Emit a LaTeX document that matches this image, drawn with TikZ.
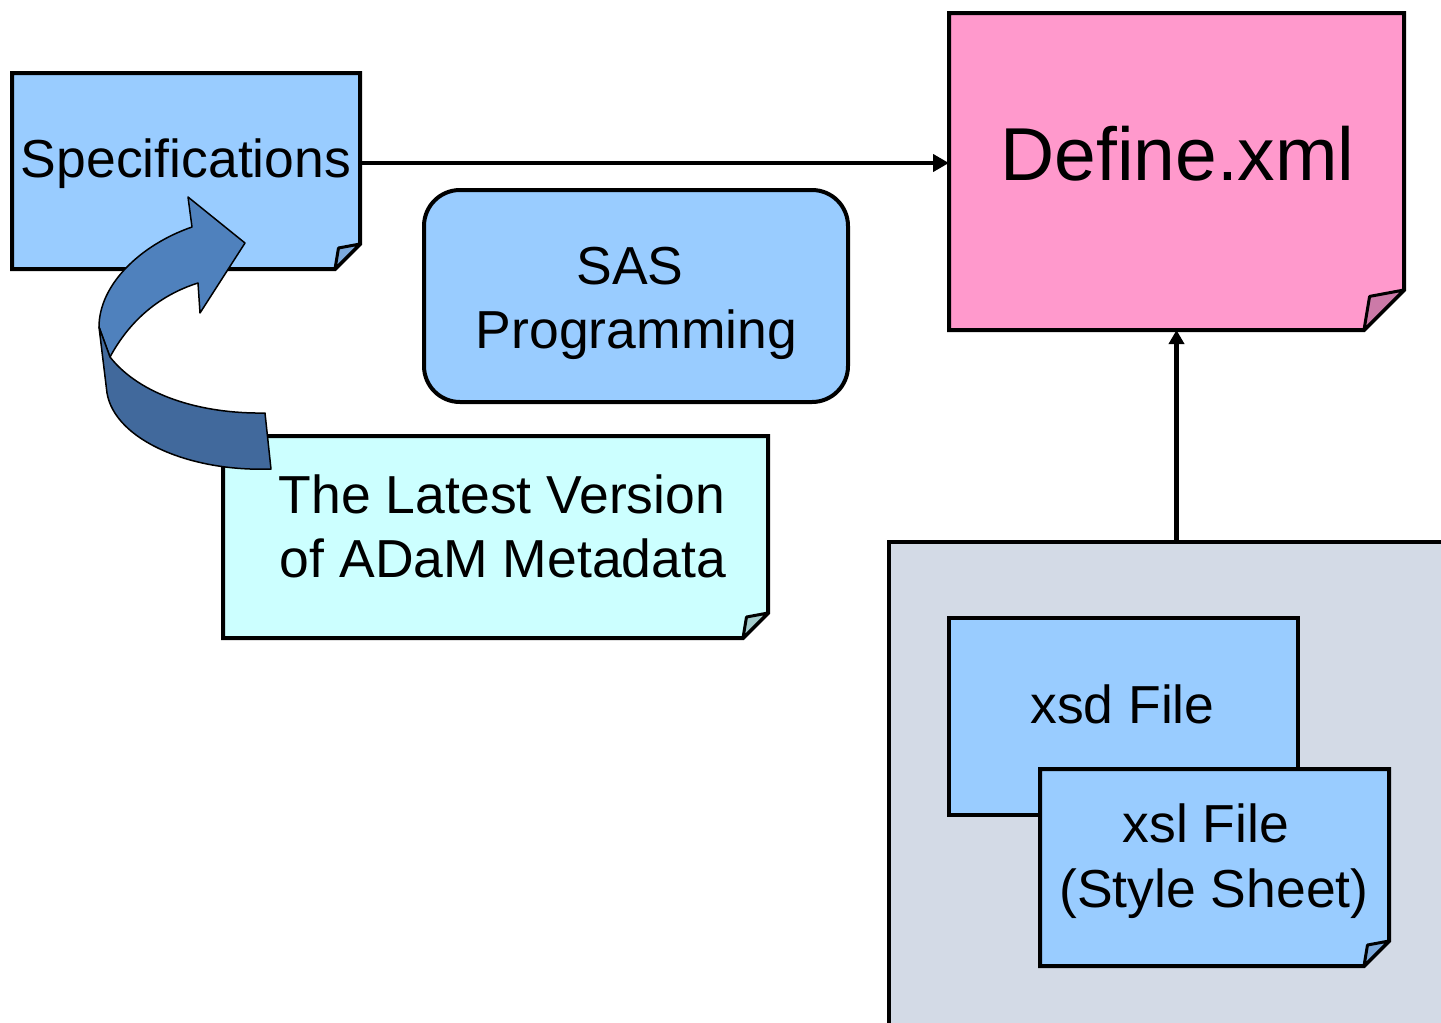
\documentclass[tikz,border=0pt]{standalone}
\usepackage{fontspec}
\setmainfont{Liberation Sans}
\usetikzlibrary{arrows.meta,calc}
\definecolor{lblue}{HTML}{99CCFF}
\definecolor{lbflap}{HTML}{7CA9DC}
\definecolor{lpink}{HTML}{FF99CC}
\definecolor{pkflap}{HTML}{CC7AA8}
\definecolor{lcyan}{HTML}{CCFFFF}
\definecolor{cyflap}{HTML}{A3CCCC}
\definecolor{grayfill}{HTML}{D3DAE6}
\definecolor{arrlight}{HTML}{4F81BD}
\definecolor{arrdark}{HTML}{41699C}
\newcommand\foldbox[4]{%
  \draw[boxline,fill=#3] (#1.north west) -- (#1.north east) -- ([yshift=#2]#1.south east)
    -- ([xshift=-#2]#1.south east) -- (#1.south west) -- cycle;
  \draw[flapline,fill=#4] ([xshift=-#2]#1.south east) -- ([xshift={-0.86*#2},yshift={0.84*#2}]#1.south east)
    -- ([yshift=#2]#1.south east) -- cycle;}
\begin{document}
\begin{tikzpicture}[x=1pt,y=-1pt,
  boxnode/.style={rectangle,draw=none,inner sep=0pt,outer sep=0pt},
  boxline/.style={line width=4pt,line join=miter,draw=black},
  flapline/.style={line width=3pt,line join=round,draw=black},
  txt/.style={anchor=base,inner sep=0pt,font=\fontsize{53.5}{64}\selectfont},
  conn/.style={line width=4.5pt,-{Triangle[length=16pt,width=17pt]}},
  ribbon/.style={draw=black,line width=1.5pt,line join=round}]
\useasboundingbox (0,0) rectangle (1441,1023);
\clip (0,0) rectangle (1441,1023);

% Specifications
\node[boxnode,minimum width=348pt,minimum height=196pt] (spec) at (186,171) {};
\foldbox{spec}{25pt}{lblue}{lbflap}
\node[txt] (spectxt) at (186,177) {Specifications};

% SAS Programming
\node[boxnode,minimum width=424pt,minimum height=212pt] (sas) at (636,296) {};
\draw[boxline,fill=lblue,rounded corners=36pt] (sas.north west) rectangle (sas.south east);
\node[txt] (sas1) at (630,284) {SAS};
\node[txt] (sas2) at (636.5,348) {Programming};

% Define.xml
\node[boxnode,minimum width=455pt,minimum height=317pt] (def) at (1176.5,171.5) {};
\foldbox{def}{40pt}{lpink}{pkflap}
\node[txt,font=\fontsize{75}{90}\selectfont] (deftxt) at (1177.5,180) {Define.xml};

% Latest version of ADaM metadata
\node[boxnode,minimum width=545pt,minimum height=202pt] (lat) at (495.5,537) {};
\foldbox{lat}{25pt}{lcyan}{cyflap}
\node[txt] (lat1) at (502,513) {The Latest Version};
\node[txt] (lat2) at (503,577) {of ADaM Metadata};

% curved ribbon arrow
\draw[ribbon,fill=arrlight] (110,357) .. controls (130,320) and (160,295) .. (198,283)
  -- (200,313) -- (245,243) -- (188,197) -- (192,227)
  .. controls (140,245) and (99,285) .. (99,327) -- cycle;
\draw[ribbon,fill=arrdark] (99,327) -- (107,393) .. controls (115,440) and (190,472) .. (271,469)
  -- (265,413) .. controls (200,414) and (140,395) .. (110,357) -- cycle;

% gray container
\node[boxnode,minimum width=571pt,minimum height=498pt] (grp) at (1174.5,791) {};
\fill[grayfill] (grp.north west) rectangle (grp.south east);
\draw[boxline] (grp.north east) -- (grp.north west) -- (grp.south west);

% xsd File
\node[boxnode,minimum width=349pt,minimum height=197pt] (xsd) at (1123.5,716.5) {};
\draw[boxline,fill=lblue] (xsd.north west) rectangle (xsd.south east);
\node[txt] (xsdtxt) at (1122.5,723) {xsd File};

% xsl File
\node[boxnode,minimum width=349pt,minimum height=197pt] (xsl) at (1214.5,867.5) {};
\foldbox{xsl}{25pt}{lblue}{lbflap}
\node[txt] (xsl1) at (1206,842) {xsl File};
\node[txt] (xsl2) at (1214,907) {(Style Sheet)};

% connectors
\draw[conn] ([yshift=8pt]spec.east) -- ([yshift=8pt]spec.east -| def.west);
\draw[conn,-{Triangle[length=14pt,width=15pt]}] (def.south |- grp.north) -- (def.south);
\end{tikzpicture}
\end{document}
